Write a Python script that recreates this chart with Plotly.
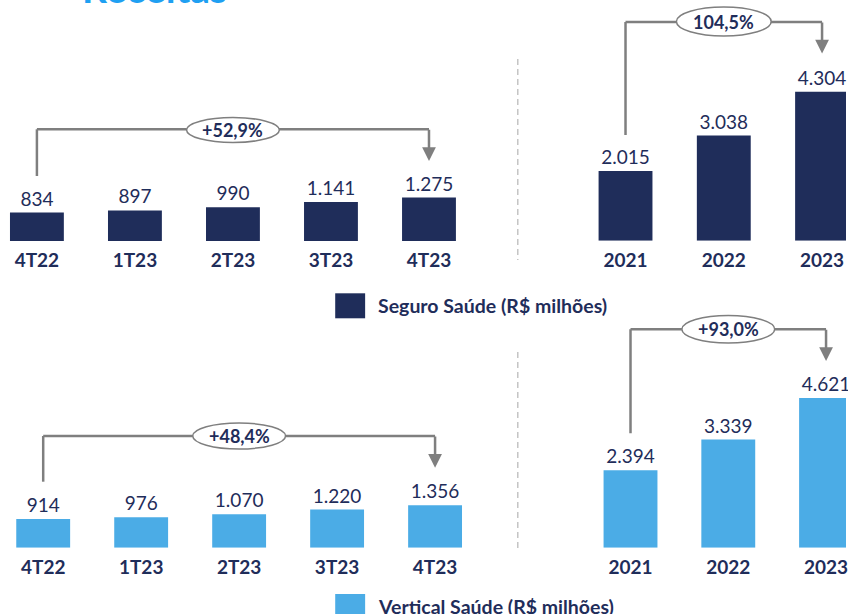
import plotly.graph_objects as go

# ---------------- data ----------------
quarters = ["4T22", "1T23", "2T23", "3T23", "4T23"]
years = ["2021", "2022", "2023"]
seguro_trim = [834, 897, 990, 1141, 1275]
seguro_ano = [2015, 3038, 4304]
vertical_trim = [914, 976, 1070, 1220, 1356]
vertical_ano = [2394, 3339, 4621]
growth_labels = ["+52,9%", "104,5%", "+48,4%", "+93,0%"]
legend_labels = ["Seguro Saúde (R$ milhões)", "Vertical Saúde (R$ milhões)"]
title_text = "Receitas"

# ---------------- style ----------------
NAVY = "#1F2D5A"
LIGHT = "#4BACE6"
GRAY = "#7F7F7F"
TXT = "#1F2D5A"
TITLE_C = "#1FA0F2"
FONT = "Lato"
W, H = 848, 614


def fx(px):
    return px / W


def fy(py):
    return 1 - py / H


# panel layout specs (pixel geometry)
panels = [
    dict(cats=quarters, vals=seguro_trim, color=NAVY, xd=(0, 480), yd=(0, 241.0),
         c0=37.0, step=98.25, scale=0.0341,
         left_top=176, hline=129.3, tip=161, ell=(117.5, 142.5), ell_hw=46.5, ell_cat=2,
         glabel=growth_labels[0]),
    dict(cats=years, vals=seguro_ano, color=NAVY, xd=(560, 848), yd=(0, 240.7),
         c0=627.0, step=98.5, scale=0.0346,
         left_top=135, hline=22.0, tip=53.5, ell=(7, 36), ell_hw=47.5, ell_cat=1,
         glabel=growth_labels[1]),
    dict(cats=quarters, vals=vertical_trim, color=LIGHT, xd=(0, 480), yd=(290, 547.7),
         c0=43.3, step=98.2, scale=0.0313,
         left_top=481.7, hline=436.0, tip=467.7, ell=(423, 449), ell_hw=46.5, ell_cat=2,
         glabel=growth_labels[2]),
    dict(cats=years, vals=vertical_ano, color=LIGHT, xd=(560, 848), yd=(290, 547.7),
         c0=632.0, step=98.0, scale=0.0324,
         left_top=433.3, hline=329.3, tip=361, ell=(315.5, 343), ell_hw=46.5, ell_cat=1,
         glabel=growth_labels[3]),
]

fig = go.Figure()
shapes = []
annotations = []
layout_axes = {}

for i, p in enumerate(panels):
    n = "" if i == 0 else str(i + 1)
    xa, ya = "x" + n, "y" + n
    fig.add_trace(go.Bar(
        x=p["cats"], y=p["vals"], xaxis=xa, yaxis=ya,
        marker=dict(color=p["color"], line=dict(width=0)),
        width=54 / p["step"],
        text=p["vals"], texttemplate="%{y:,}", textposition="outside",
        textfont=dict(family=FONT, size=19, color=TXT),
        constraintext="none", cliponaxis=False, showlegend=False,
        hoverinfo="skip",
    ))
    xr = [(p["xd"][0] - p["c0"]) / p["step"], (p["xd"][1] - p["c0"]) / p["step"]]
    yr = [0, (p["yd"][1] - p["yd"][0]) / p["scale"]]
    layout_axes["xaxis" + n] = dict(
        domain=[fx(p["xd"][0]), fx(p["xd"][1])], range=xr, type="category",
        anchor=ya, showgrid=False, zeroline=False, showline=False,
        ticks="outside", ticklen=2, tickcolor="rgba(0,0,0,0)",
        tickfont=dict(family=FONT, size=19, color=TXT, weight="bold"),
        fixedrange=True,
    )
    layout_axes["yaxis" + n] = dict(
        domain=[fy(p["yd"][1]), fy(p["yd"][0])], range=yr, anchor=xa,
        visible=False, fixedrange=True,
    )
    # category indices (numeric, so year-like names are not read as numbers)
    first, last = 0, len(p["cats"]) - 1
    line = dict(color=GRAY, width=2.5)
    # left vertical
    shapes.append(dict(type="line", xref=xa, yref="paper", x0=first, x1=first,
                       y0=fy(p["left_top"]), y1=fy(p["hline"]), line=line))
    # horizontal
    shapes.append(dict(type="line", xref=xa, yref="paper", x0=first, x1=last,
                       y0=fy(p["hline"]), y1=fy(p["hline"]), line=line))
    # ellipse with growth label
    hw = p["ell_hw"] / p["step"]
    shapes.append(dict(type="circle", xref=xa, yref="paper",
                       x0=p["ell_cat"] - hw, x1=p["ell_cat"] + hw,
                       y0=fy(p["ell"][1]), y1=fy(p["ell"][0]),
                       fillcolor="white", line=dict(color=GRAY, width=1.5)))
    annotations.append(dict(
        x=p["ell_cat"], xref=xa, y=fy((p["ell"][0] + p["ell"][1]) / 2), yref="paper",
        text="<b>%s</b>" % p["glabel"], showarrow=False,
        font=dict(family=FONT, size=18, color=TXT), xanchor="center", yanchor="middle",
    ))
    # right vertical with arrow head
    annotations.append(dict(
        x=last, xref=xa, y=fy(p["tip"]), yref="paper", text="",
        showarrow=True, arrowhead=2, arrowsize=1.1, arrowwidth=2.5, arrowcolor=GRAY,
        ax=0, ay=-(p["tip"] - p["hline"]) - 1, standoff=0,
    ))

# dashed separators
for (y0, y1) in [(59, 260), (352, 552)]:
    shapes.append(dict(type="line", xref="paper", yref="paper", x0=fx(519), x1=fx(519),
                       y0=fy(y0), y1=fy(y1),
                       line=dict(color="#C4C4C4", width=1.5, dash="6px,4px")))

# legend keys
for (top, color, label) in [(293.3, NAVY, legend_labels[0]), (594.0, LIGHT, legend_labels[1])]:
    shapes.append(dict(type="rect", xref="paper", yref="paper", x0=fx(336), x1=fx(366),
                       y0=fy(top + 25), y1=fy(top), fillcolor=color, line=dict(width=0)))
    annotations.append(dict(
        x=fx(377), y=fy(top + 12.5), xref="paper", yref="paper", text="<b>%s</b>" % label,
        showarrow=False, xanchor="left", yanchor="middle",
        font=dict(family=FONT, size=19.5, color=TXT),
    ))

# cut-off title
annotations.append(dict(
    x=fx(80), y=fy(13), xref="paper", yref="paper", text="<b>%s</b>" % title_text,
    showarrow=False, xanchor="left", yanchor="bottom",
    font=dict(family=FONT, size=39, color=TITLE_C),
))

fig.update_layout(
    width=W, height=H, margin=dict(l=0, r=0, t=0, b=0),
    paper_bgcolor="white", plot_bgcolor="white",
    separators=",.", bargap=0.45,
    shapes=shapes, annotations=annotations,
    font=dict(family=FONT, color=TXT),
    **layout_axes,
)

fig.write_html("out.html", post_script="document.body.style.margin='0';",
               config={"displayModeBar": False})
